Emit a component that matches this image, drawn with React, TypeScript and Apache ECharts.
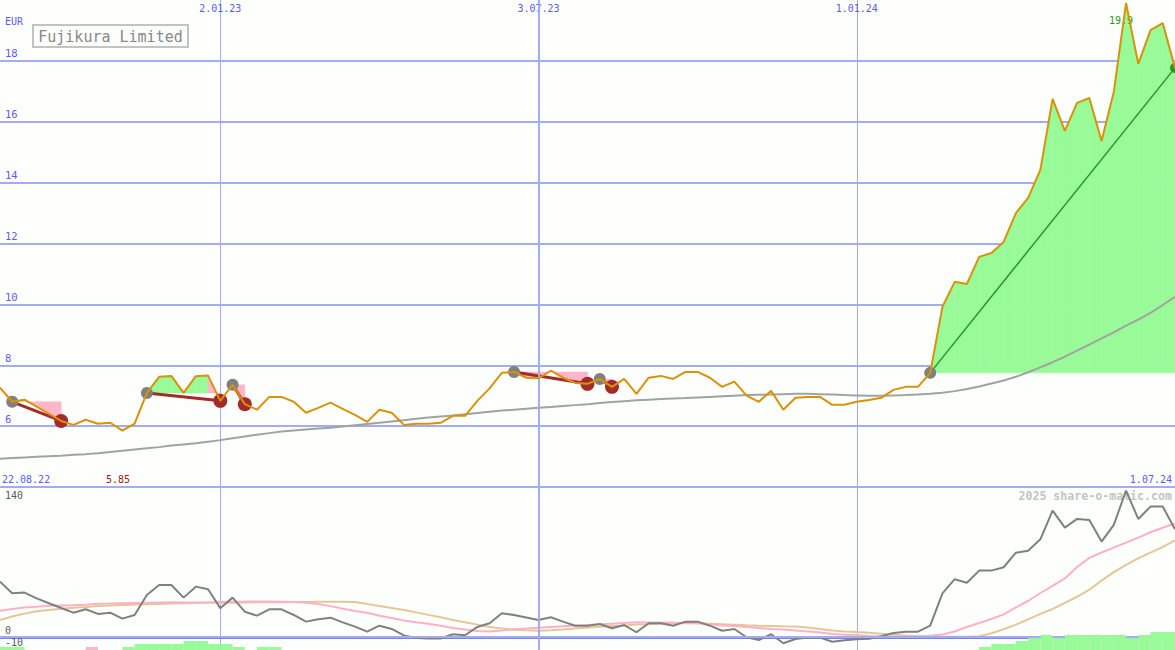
import { useEffect, useRef } from 'react';
import * as echarts from 'echarts';

// ---------- DATA ----------
const weeks = [
  '29.08.22', '5.09.22', '12.09.22', '19.09.22', '26.09.22', '3.10.22', '10.10.22', '17.10.22', '24.10.22', '31.10.22',
  '7.11.22', '14.11.22', '21.11.22', '28.11.22', '5.12.22', '12.12.22', '19.12.22', '26.12.22', '2.01.23', '9.01.23',
  '16.01.23', '23.01.23', '30.01.23', '6.02.23', '13.02.23', '20.02.23', '27.02.23', '6.03.23', '13.03.23', '20.03.23',
  '27.03.23', '3.04.23', '10.04.23', '17.04.23', '24.04.23', '1.05.23', '8.05.23', '15.05.23', '22.05.23', '29.05.23',
  '5.06.23', '12.06.23', '19.06.23', '26.06.23', '3.07.23', '10.07.23', '17.07.23', '24.07.23', '31.07.23', '7.08.23',
  '14.08.23', '21.08.23', '28.08.23', '4.09.23', '11.09.23', '18.09.23', '25.09.23', '2.10.23', '9.10.23', '16.10.23',
  '23.10.23', '30.10.23', '6.11.23', '13.11.23', '20.11.23', '27.11.23', '4.12.23', '11.12.23', '18.12.23', '25.12.23',
  '1.01.24', '8.01.24', '15.01.24', '22.01.24', '29.01.24', '5.02.24', '12.02.24', '19.02.24', '26.02.24', '4.03.24',
  '11.03.24', '18.03.24', '25.03.24', '1.04.24', '8.04.24', '15.04.24', '22.04.24', '29.04.24', '6.05.24', '13.05.24',
  '20.05.24', '27.05.24', '3.06.24', '10.06.24', '17.06.24', '24.06.24', '1.07.24',
];

const markedDates = ['2.01.23', '3.07.23', '1.01.24'];
const firstDateLabel = '22.08.22';
const stockName = 'Fujikura Limited';
const currency = 'EUR';
const watermark = '2025 share-o-matic.com';

const priceClose = [
  7.26, 6.80, 6.87, 6.64, 6.40, 6.17, 6.04, 6.21, 6.08, 6.11,
  5.85, 6.08, 7.09, 7.62, 7.65, 7.09, 7.64, 7.66, 6.83, 7.36,
  6.72, 6.54, 6.96, 6.96, 6.80, 6.44, 6.60, 6.77, 6.57, 6.37,
  6.14, 6.54, 6.44, 6.04, 6.08, 6.08, 6.11, 6.34, 6.34, 6.83,
  7.24, 7.75, 7.78, 7.59, 7.57, 7.82, 7.59, 7.42, 7.39, 7.55,
  7.29, 7.55, 7.06, 7.59, 7.65, 7.55, 7.78, 7.78, 7.59, 7.29,
  7.46, 7.00, 6.80, 7.16, 6.54, 6.93, 6.96, 6.96, 6.70, 6.70,
  6.80, 6.86, 6.93, 7.19, 7.29, 7.29, 7.75, 9.92, 10.74, 10.67,
  11.56, 11.69, 12.05, 13.00, 13.50, 14.42, 16.75, 15.70, 16.62, 16.78,
  15.37, 16.98, 19.90, 17.90, 19.01, 19.24, 17.77,
];

const priceAvg = [
  4.93, 4.95, 4.97, 4.99, 5.01, 5.03, 5.06, 5.08, 5.11, 5.15,
  5.19, 5.23, 5.27, 5.31, 5.36, 5.40, 5.44, 5.49, 5.54, 5.60,
  5.66, 5.72, 5.77, 5.82, 5.86, 5.89, 5.92, 5.95, 5.99, 6.03,
  6.07, 6.11, 6.15, 6.19, 6.24, 6.28, 6.32, 6.35, 6.39, 6.43,
  6.47, 6.51, 6.54, 6.57, 6.60, 6.63, 6.66, 6.69, 6.72, 6.76,
  6.79, 6.82, 6.85, 6.87, 6.89, 6.91, 6.92, 6.94, 6.96, 6.98,
  7.00, 7.02, 7.03, 7.04, 7.05, 7.06, 7.06, 7.05, 7.04, 7.02,
  7.01, 7.00, 7.00, 7.01, 7.02, 7.04, 7.06, 7.10, 7.15, 7.22,
  7.30, 7.40, 7.50, 7.62, 7.77, 7.93, 8.10, 8.28, 8.48, 8.68,
  8.88, 9.08, 9.30, 9.50, 9.72, 9.98, 10.25,
];

const momentum = [
  57.4, 45.3, 46.0, 40.1, 35.0, 30.1, 25.2, 28.7, 23.9, 25.2,
  19.0, 22.8, 43.6, 53.9, 53.9, 40.8, 52.2, 49.5, 29.8, 40.8,
  26.2, 22.1, 28.7, 28.7, 22.8, 15.9, 18.4, 20.0, 15.2, 10.7,
  5.5, 11.7, 8.3, 1.6, -1.0, -1.6, -1.6, 2.8, 1.8, 10.4,
  14.2, 24.6, 22.8, 20.2, 17.6, 20.4, 15.9, 11.7, 11.7, 13.5,
  9.0, 12.4, 4.9, 14.2, 14.2, 11.7, 15.9, 15.9, 11.7, 6.5,
  8.3, -0.3, -3.1, 2.8, -6.5, -2.1, -0.5, -0.7, -4.9, -3.4,
  -2.4, -1.9, 0.7, 4.1, 5.5, 5.5, 11.7, 45.3, 59.9, 56.3,
  68.8, 68.8, 72.3, 87.4, 89.5, 101.3, 131.0, 113.4, 122.4, 121.4,
  98.9, 116.2, 151.8, 122.4, 135.2, 135.2, 111.7,
];

const momentumFast = [
  27.3, 29.0, 30.6, 31.4, 32.4, 32.7, 33.0, 33.4, 34.5, 34.7,
  35.1, 35.3, 35.5, 35.8, 35.9, 35.8, 35.7, 35.9, 36.3, 36.6,
  36.7, 36.9, 36.9, 36.6, 36.2, 35.5, 34.2, 32.0, 29.3, 27.0,
  25.2, 22.1, 19.7, 17.1, 15.2, 13.8, 11.7, 9.4, 7.7, 6.3,
  5.6, 6.7, 8.0, 8.7, 9.6, 10.4, 11.2, 11.9, 12.4, 13.1,
  13.8, 14.6, 15.2, 15.0, 14.9, 14.7, 14.5, 14.3, 13.1, 12.0,
  11.3, 10.4, 9.3, 8.4, 7.7, 6.8, 5.8, 4.6, 3.2, 2.4,
  1.8, 1.0, 0.6, 0.4, 0.4, 0.6, 1.2, 2.5, 5.7, 10.4,
  14.5, 18.7, 23.5, 30.6, 37.3, 45.6, 52.9, 60.7, 72.6, 82.0,
  87.6, 92.7, 97.8, 103.0, 108.6, 113.2, 117.7,
];

const momentumSlow = [
  17.6, 21.3, 24.2, 26.7, 28.0, 29.3, 30.3, 31.1, 32.1, 32.7,
  33.2, 33.6, 34.0, 34.3, 34.6, 35.0, 35.2, 35.4, 35.5, 35.6,
  35.8, 35.9, 36.0, 36.1, 36.3, 36.3, 36.5, 36.6, 36.5, 36.3,
  34.2, 32.2, 30.1, 28.0, 25.5, 22.9, 20.4, 17.7, 15.2, 12.8,
  10.3, 8.8, 7.6, 6.9, 6.5, 7.1, 7.8, 8.9, 9.8, 10.6,
  11.4, 12.0, 12.9, 13.3, 13.8, 14.2, 14.2, 14.2, 13.7, 13.2,
  12.7, 12.1, 11.6, 11.3, 11.0, 10.8, 9.9, 8.3, 6.6, 5.8,
  5.1, 4.4, 3.4, 2.4, 1.6, 0.9, 0.4, 0.3, 0.3, 0.3,
  0.8, 3.8, 8.0, 12.8, 18.2, 23.9, 29.0, 35.4, 41.7, 49.0,
  58.5, 67.3, 74.8, 81.6, 87.4, 93.3, 100.1,
];

// weekly histogram (one bar per week, weeks 0..95)
const histUp = [
  1, 1, 0, 0, 0, 0, 0, 0, 0, 0,
  1, 2, 2, 2, 2, 3, 3, 2, 2, 1,
  0, 1, 1, 0, 0, 0, 0, 0, 0, 0,
  0, 0, 0, 0, 0, 0, 0, 0, 0, 0,
  0, 0, 0, 0, 0, 0, 0, 0, 0, 0,
  0, 0, 0, 0, 0, 0, 0, 0, 0, 0,
  0, 0, 0, 0, 0, 0, 0, 0, 0, 0,
  0, 0, 0, 0, 0, 0, 0, 0, 0, 0,
  1, 2, 2, 3, 4, 5, 4, 5, 5, 5,
  5, 5, 4, 5, 6, 6,
];
const histDown = [
  0, 0, 0, 0, 0, 0, 0, 1, 0, 0,
  0, 0, 0, 0, 0, 0, 0, 0, 0, 0,
  0, 0, 0, 0, 0, 0, 0, 0, 0, 0,
  0, 0, 0, 0, 0, 0, 0, 0, 0, 0,
  0, 0, 0, 0, 0, 0, 0, 0, 0, 0,
  0, 0, 0, 0, 0, 0, 0, 0, 0, 0,
  0, 0, 0, 0, 0, 0, 0, 0, 0, 0,
  0, 0, 0, 0, 0, 0, 0, 0, 0, 0,
  0, 0, 0, 0, 0, 0, 0, 0, 0, 0,
  0, 0, 0, 0, 0, 0,
];

// trades (week indexes)
const tradeEntry = [1, 12, 19, 42, 49, 76];
const tradeExit = [5, 18, 20, 48, 50, 96];
const tradeOpen = [false, false, false, false, false, true];

const lowerTicks = [0, 140];
const histTicks = [-10];

// ---------- STYLE ----------
const MONO = '"DejaVu Sans Mono", "Liberation Mono", monospace';
const BG = '#fcfffc';
const BLUE_TXT = '#5b5bf5';
const GRID_C = '#a3acf2';
const AXIS_C = '#7484ec';
const PRICE_C = '#d9920a';
const AVG_C = '#a2a2a2';
const GREEN_FILL = '#98fb98';
const PINK_FILL = '#ffb6c8';
const LOSS_C = '#a52a2a';
const WIN_C = '#249a24';
const ENTRY_C = '#808080';

function buildOption() {
  const isMarked = (_i: number, v: string) => markedDates.includes(v);
  const minPrice = Math.min(...priceClose);

  const fillSeries = {
    type: 'custom',
    xAxisIndex: 0,
    yAxisIndex: 0,
    z: 1,
    silent: true,
    data: tradeEntry.map((e, k) => [e, tradeExit[k]]),
    renderItem: (params: any, api: any) => {
      const k = params.dataIndex;
      const e = tradeEntry[k];
      const x = tradeExit[k];
      const level = priceClose[e];
      let peak = x;
      if (!tradeOpen[k]) {
        peak = e;
        for (let j = e; j <= x; j++) if (priceClose[j] > priceClose[peak]) peak = j;
      }
      const px = (j: number) => api.coord([j, level])[0];
      const py = (v: number) => api.coord([e, v])[1];
      const yL = py(level);
      const children: any[] = [];
      for (let j = e; j < x; j++) {
        const x0 = px(j);
        const x1 = px(j + 1);
        const v0 = priceClose[j];
        const v1 = priceClose[j + 1];
        const pieces: number[][] = [];
        if ((v0 - level) * (v1 - level) < 0) {
          const t = (level - v0) / (v1 - v0);
          const xm = x0 + t * (x1 - x0);
          pieces.push([x0, v0, xm, level], [xm, level, x1, v1]);
        } else {
          pieces.push([x0, v0, x1, v1]);
        }
        for (const [xa, va, xb, vb] of pieces) {
          if (va === level && vb === level) continue;
          const above = va + vb > 2 * level;
          const color = above && j < peak ? GREEN_FILL : PINK_FILL;
          children.push({
            type: 'polygon',
            shape: { points: [[xa, yL], [xa, py(va)], [xb, py(vb)], [xb, yL]] },
            style: { fill: color, stroke: color, lineWidth: 0.5 },
          });
        }
      }
      return { type: 'group', children };
    },
  };

  const tradeLines = tradeEntry.map((e, k) => ({
    type: 'line',
    xAxisIndex: 0,
    yAxisIndex: 0,
    z: 3,
    silent: true,
    symbol: 'none',
    data: [[e, priceClose[e]], [tradeExit[k], priceClose[tradeExit[k]]]],
    lineStyle: { color: tradeOpen[k] ? WIN_C : LOSS_C, width: tradeOpen[k] ? 1.5 : 3 },
  }));

  const splitX = { show: true, interval: isMarked, lineStyle: { color: GRID_C, width: 1 } };
  const lowerLabel = {
    inside: true, margin: 5, color: '#5a5a5a', fontFamily: MONO, fontSize: 10, lineHeight: 9,
    verticalAlign: 'bottom', showMinLabel: true, showMaxLabel: true,
  };

  return {
    animation: false,
    backgroundColor: BG,
    grid: [
      { left: 0, right: 0, top: 0, height: 487 },
      { left: 0, right: 0, top: 487, bottom: 0 },
      { left: 0, right: 0, bottom: 0, height: 27 },
    ],
    xAxis: [
      {
        type: 'category', gridIndex: 0, data: weeks, boundaryGap: false, position: 'top',
        axisLine: { show: false }, axisTick: { show: false },
        axisLabel: { inside: true, interval: isMarked, color: BLUE_TXT, fontFamily: MONO, fontSize: 10, margin: 3 },
        splitLine: splitX,
      },
      {
        type: 'category', gridIndex: 1, data: weeks, boundaryGap: false, position: 'top',
        axisLine: { show: true, lineStyle: { color: AXIS_C, width: 3 } },
        axisTick: { show: false }, axisLabel: { show: false },
        splitLine: splitX,
      },
      { type: 'category', gridIndex: 2, data: weeks.slice(0, histUp.length), boundaryGap: true, show: false },
    ],
    yAxis: [
      {
        type: 'value', gridIndex: 0, min: 4, max: 20, interval: 2,
        axisLine: { show: false }, axisTick: { show: false },
        axisLabel: {
          inside: true, margin: 5, color: BLUE_TXT, fontFamily: MONO, fontSize: 10.5,
          verticalAlign: 'bottom', padding: [0, 0, 2, 0],
          formatter: (v: number) => (v > 4 && v < 20 ? String(v) : ''),
        },
        splitLine: { show: true, showMaxLine: false, lineStyle: { color: GRID_C, width: 2 } },
      },
      {
        type: 'value', gridIndex: 1, min: -13.5, max: 155.5, position: 'left',
        axisLine: { show: false }, axisTick: { show: false }, splitLine: { show: false },
        axisLabel: { ...lowerLabel, padding: [0, 0, 2, 0], customValues: lowerTicks },
      },
      { type: 'value', gridIndex: 2, min: 0, max: 9, show: false },
      {
        type: 'value', gridIndex: 1, min: -13.5, max: 155.5, position: 'left', offset: 0,
        axisLine: { show: false }, axisTick: { show: false }, splitLine: { show: false },
        axisLabel: { ...lowerLabel, customValues: histTicks },
      },
    ],
    graphic: [
      { type: 'text', z: 0, left: 5, top: 16, style: { text: currency, fill: BLUE_TXT, font: `10px ${MONO}` } },
      {
        type: 'rect', z: 10, shape: { x: 33, y: 25, width: 155, height: 22 },
        style: { fill: BG, stroke: '#c3c3c3', lineWidth: 2 },
      },
      {
        type: 'text', z: 11, x: 110.5, y: 36.5,
        style: { text: stockName, fill: '#888888', font: `15px ${MONO}`, textAlign: 'center', textVerticalAlign: 'middle' },
      },
      {
        type: 'text', z: 0, x: 2, y: 479,
        style: { text: firstDateLabel, fill: BLUE_TXT, font: `10px ${MONO}`, textVerticalAlign: 'middle' },
      },
      {
        type: 'text', z: 0, x: 1172, y: 479,
        style: { text: weeks[weeks.length - 1], fill: BLUE_TXT, font: `10px ${MONO}`, textAlign: 'right', textVerticalAlign: 'middle' },
      },
      {
        type: 'text', z: 0, x: 106, y: 479,
        style: { text: minPrice.toFixed(2), fill: '#a01818', font: `10px ${MONO}`, textVerticalAlign: 'middle' },
      },
      {
        type: 'text', z: 0, x: 1172, y: 496,
        style: { text: watermark, fill: '#c4c4c4', font: `bold 11.6px ${MONO}`, textAlign: 'right', textVerticalAlign: 'middle' },
      },
    ],
    series: [
      fillSeries,
      {
        type: 'line', xAxisIndex: 0, yAxisIndex: 0, z: 2, silent: true, symbol: 'none',
        data: priceAvg, lineStyle: { color: AVG_C, width: 2 },
        markLine: {
          silent: true, symbol: 'none', label: { show: false },
          lineStyle: { color: GRID_C, width: 2, type: 'solid' },
          data: [{ xAxis: markedDates[1] }],
        },
      },
      ...tradeLines,
      {
        type: 'scatter', xAxisIndex: 0, yAxisIndex: 0, z: 4, silent: true, symbolSize: 12,
        data: tradeEntry.map((e) => [e, priceClose[e]]),
        itemStyle: { color: ENTRY_C, opacity: 1 },
      },
      {
        type: 'scatter', xAxisIndex: 0, yAxisIndex: 0, z: 4, silent: true, symbolSize: 14,
        data: tradeExit.filter((_, k) => !tradeOpen[k]).map((x) => [x, priceClose[x]]),
        itemStyle: { color: LOSS_C, opacity: 1 },
      },
      {
        type: 'scatter', xAxisIndex: 0, yAxisIndex: 0, z: 4, silent: true, symbolSize: 10,
        data: tradeExit.filter((_, k) => tradeOpen[k]).map((x) => [x, priceClose[x]]),
        itemStyle: { color: WIN_C, opacity: 1 },
      },
      {
        type: 'line', xAxisIndex: 0, yAxisIndex: 0, z: 5, silent: true, symbol: 'none',
        data: priceClose, lineStyle: { color: PRICE_C, width: 2 },
        markPoint: {
          silent: true, symbol: 'circle', symbolSize: 1, itemStyle: { color: 'rgba(0,0,0,0)' },
          data: [{ type: 'max' }],
          label: {
            show: true, position: 'inside', offset: [-5, 17], color: WIN_C, fontFamily: MONO, fontSize: 10,
            formatter: (p: any) => Number(p.value).toFixed(1),
          },
        },
      },
      {
        type: 'line', xAxisIndex: 1, yAxisIndex: 1, z: 2, silent: true, symbol: 'none',
        data: momentumSlow, lineStyle: { color: '#e3c896', width: 2 },
        markLine: {
          silent: true, symbol: 'none', label: { show: false },
          lineStyle: { color: GRID_C, width: 2, type: 'solid' },
          data: [{ yAxis: 0 }, { xAxis: markedDates[1] }],
        },
      },
      {
        type: 'line', xAxisIndex: 1, yAxisIndex: 1, z: 3, silent: true, symbol: 'none',
        data: momentumFast, lineStyle: { color: '#ffb0c8', width: 2 },
      },
      {
        type: 'line', xAxisIndex: 1, yAxisIndex: 1, z: 4, silent: true, symbol: 'none',
        data: momentum, lineStyle: { color: '#808080', width: 2 },
      },
      {
        type: 'bar', xAxisIndex: 2, yAxisIndex: 2, z: 5, silent: true,
        data: histUp, barCategoryGap: '0%', barGap: '-100%', itemStyle: { color: GREEN_FILL },
      },
      {
        type: 'bar', xAxisIndex: 2, yAxisIndex: 2, z: 5, silent: true,
        data: histDown, barCategoryGap: '0%', barGap: '-100%', itemStyle: { color: PINK_FILL },
      },
    ],
  };
}

export default function App() {
  const ref = useRef<HTMLDivElement>(null);
  useEffect(() => {
    const chart = echarts.init(ref.current as HTMLDivElement, null, { renderer: 'svg' });
    chart.setOption(buildOption() as any);
    return () => chart.dispose();
  }, []);
  return (
    <div
      ref={ref}
      style={{ position: 'absolute', left: 0, top: 0, width: 1175, height: 650, background: BG }}
    />
  );
}
